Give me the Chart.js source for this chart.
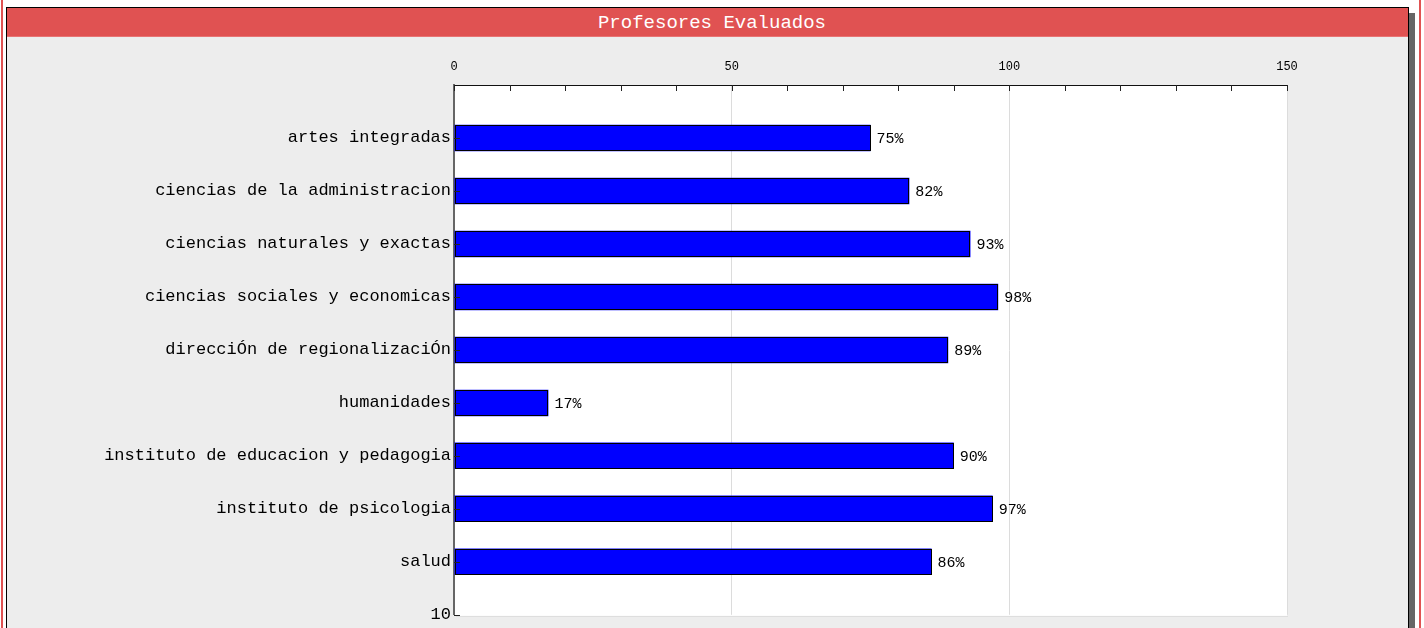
<!DOCTYPE html>
<html>
<head>
<meta charset="utf-8">
<script src="https://cdn.jsdelivr.net/npm/chart.js@4"></script>
<style>
  body{margin:0;background:#fff;width:1424px;height:628px;overflow:hidden;position:relative;}
  .redline{position:absolute;top:0;width:2px;height:628px;background:#e05252;}
  #box{position:absolute;left:6px;top:7px;width:1401px;height:640px;border:1px solid #000;border-bottom:none;background:#ededed;box-shadow:6px 6px 0 #666;}
  #title{height:29px;background:#e05252;border-bottom:1px solid #e87474;color:#fff;font:19px "Liberation Mono",monospace;text-align:center;line-height:31px;padding-left:9px;box-sizing:border-box;}
  #wrap{position:absolute;left:0;top:30px;width:1401px;height:590px;}
</style>
</head>
<body>
<div class="redline" style="left:1px"></div>
<div class="redline" style="left:1419px"></div>
<div id="box">
  <div id="title">Profesores Evaluados</div>
  <div id="wrap"><canvas id="myChart" width="1401" height="590"></canvas></div>
</div>
<script>
var categories = ['artes integradas','ciencias de la administracion','ciencias naturales y exactas','ciencias sociales y economicas','direcciÓn de regionalizaciÓn','humanidades','instituto de educacion y pedagogia','instituto de psicologia','salud']
var values = [75,82,93,98,89,17,90,97,86]
var xMajor = [0,50,100,150]
var yEndLabel = '10'

// y axis runs 0..10, categories sit on 1..9, the old chart shows "10" at the bottom
var yLabels = [''].concat(categories).concat([yEndLabel])
var barData = [null].concat(values).concat([null])

var monoFont = '"Liberation Mono", monospace'

// black outline round each bar, then "75%" text after it
var barDecor = {
  id:'barDecor',
  afterDatasetsDraw:function(chart){
    var ctx = chart.ctx
    var meta = chart.getDatasetMeta(0)
    ctx.save()
    ctx.lineWidth = 1
    ctx.strokeStyle = '#000'
    ctx.font = '15px ' + monoFont
    ctx.fillStyle = '#000'
    ctx.textBaseline = 'middle'
    ctx.textAlign = 'left'
    meta.data.forEach(function(bar, i){
      var v = barData[i]
      if (v === null) return
      var p = bar.getProps(['x','y','base','height'], true)
      var x0 = Math.round(p.base) + 0.5, x1 = Math.round(p.x) - 0.5
      var y0 = Math.round(p.y - p.height / 2) + 0.5, y1 = Math.round(p.y + p.height / 2) - 0.5
      ctx.strokeRect(x0, y0, x1 - x0, y1 - y0)
      ctx.fillText(v + '%', p.x + 6, p.y + 1)
    })
    ctx.restore()
  }
}

// tick marks pointing into the plot, like the original
var innerTicks = {
  id:'innerTicks',
  afterDraw:function(chart){
    var ctx = chart.ctx
    var area = chart.chartArea
    var xs = chart.scales.x, ys = chart.scales.y
    var left = Math.round(area.left), top = Math.round(area.top)
    ctx.save()
    ctx.fillStyle = '#222'
    xs.ticks.forEach(function(t){
      var px = Math.round(xs.getPixelForValue(t.value))
      ctx.fillRect(px, top, 1, 6)
    })
    for (var i = 1; i < yLabels.length; i++) {
      var py = Math.round(ys.getPixelForValue(i))
      ctx.fillRect(left, py, 6, 1)
    }
    // light frame at the bottom of the plot
    ctx.fillStyle = '#dedede'
    ctx.fillRect(left + 2, Math.round(area.bottom) + 1, area.right - area.left - 1, 1)
    ctx.restore()
  }
}

var whiteArea = {
  id:'whiteArea',
  beforeDraw:function(chart){
    var a = chart.chartArea
    chart.ctx.save()
    chart.ctx.fillStyle = '#fff'
    chart.ctx.fillRect(a.left, a.top, a.right - a.left, a.bottom - a.top + 1)
    chart.ctx.restore()
  }
}

var ctx = document.getElementById('myChart').getContext('2d')
var myChart = new Chart(ctx, {
  type:'bar',
  data:{
    labels:yLabels,
    datasets:[{
      data:barData,
      backgroundColor:'#0000ff',
      borderWidth:0,
      barPercentage:0.5,
      categoryPercentage:1
    }]
  },
  options:{
    indexAxis:'y',
    responsive:false,
    animation:false,
    events:[],
    layout:{padding:{left:0,right:121,top:0,bottom:11}},
    plugins:{legend:{display:false},title:{display:false},tooltip:{enabled:false}},
    scales:{
      x:{
        position:'top',
        min:0,
        max:150,
        afterFit:function(s){ s.height = 47 },
        ticks:{
          stepSize:10,
          autoSkip:false,
          maxRotation:0,
          padding:11,
          color:'#000',
          font:{family:monoFont,size:12},
          callback:function(v){ return xMajor.indexOf(v) >= 0 ? String(v) : '' }
        },
        grid:{
          drawTicks:false,
          color:function(c){ return (c.tick && c.tick.value > 0 && c.tick.value % 50 === 0) ? '#dcdcdc' : 'rgba(0,0,0,0)' }
        },
        border:{display:true,color:'#111'}
      },
      y:{
        type:'category',
        offset:false,
        afterFit:function(s){ s.width = 447 },
        ticks:{
          autoSkip:false,
          padding:3,
          color:'#000',
          font:{family:monoFont,size:17}
        },
        grid:{display:true,drawOnChartArea:false,drawTicks:false},
        border:{display:true,color:'#666',width:2}
      }
    }
  },
  plugins:[whiteArea,barDecor,innerTicks]
})
</script>
</body>
</html>
